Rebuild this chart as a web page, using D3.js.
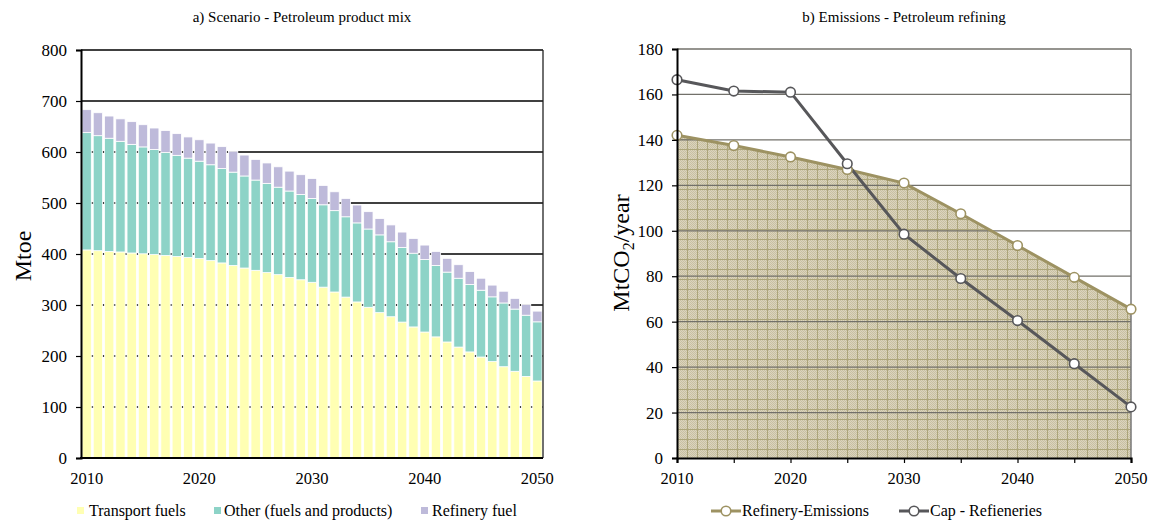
<!DOCTYPE html>
<html>
<head>
<meta charset="utf-8">
<script src="https://cdn.jsdelivr.net/npm/d3@7"></script>
<style>
  html, body { margin: 0; padding: 0; background: #fff; }
  svg, svg text { font-family: "Liberation Serif", "Times New Roman", serif; }
  svg { display: block; }
</style>
</head>
<body>
<svg id="chart" width="1165" height="522"></svg>
<script>
// ---------- Panel a) product mix (Mtoe), one value per year 2010-2050 ----------
const years = d3.range(2010, 2051);
const transportFuels = [408, 406.5, 405, 404, 402, 400.5, 399, 397, 395, 393,
  391, 387, 382.5, 377.5, 372.5, 368, 363.5, 359.5, 354, 349.5,
  344.5, 335, 325.5, 315.5, 306, 295.5, 285, 277, 266.5, 257,
  247, 237.5, 227.5, 217.5, 208, 198, 189, 179, 170, 160, 151];
const otherProducts = [230, 225.5, 222, 217, 213, 209.5, 206, 202, 198.5, 195,
  191, 188, 185, 183, 180.5, 177, 175, 171.5, 169.5, 167,
  164.5, 161.5, 159.5, 157.5, 155, 153.5, 152.5, 147, 146.5, 144.5,
  142, 140, 137, 135, 132, 131, 127, 125, 122, 120, 116];
const refineryFuel = [45, 45, 43.5, 44, 44.5, 43.5, 42, 43, 42.5, 41.5,
  42, 42.5, 43, 41, 41, 40.5, 40, 40, 39, 39,
  39, 38, 37, 36, 35, 34, 32, 33, 30, 29,
  28.5, 27.5, 27, 26.5, 25.5, 23.5, 23, 23, 21, 21, 21];
const mixSeries = ["Transport fuels", "Other (fuels and products)", "Refinery fuel"];
const mixColors = ["#ffffb3", "#8dd3c7", "#bebada"];
const mixTicks = [0, 100, 200, 300, 400, 500, 600, 700, 800];
const mixYearLabels = [2010, 2020, 2030, 2040, 2050];

// ---------- Panel b) refining emissions (MtCO2/year) ----------
const emisYears = [2010, 2015, 2020, 2025, 2030, 2035, 2040, 2045, 2050];
const refineryEmissions = [142, 137.5, 132.5, 127, 121, 107.5, 93.5, 79.5, 65.5];
const capRefineries = [166.5, 161.5, 161, 129.5, 98.5, 79, 60.5, 41.5, 22.5];
const emisTicks = [0, 20, 40, 60, 80, 100, 120, 140, 160, 180];
const emisYearLabels = [2010, 2020, 2030, 2040, 2050];

const FONT = "Liberation Serif, Times New Roman, serif";
const svg = d3.select("#chart");

// Patterns for the shaded emissions area
const defs = svg.append("defs");
const dith = defs.append("pattern").attr("id", "dith")
  .attr("width", 2).attr("height", 2).attr("patternUnits", "userSpaceOnUse");
dith.append("rect").attr("width", 2).attr("height", 2).attr("fill", "#dbd4bd");
dith.append("rect").attr("x", 0).attr("y", 0).attr("width", 1).attr("height", 1).attr("fill", "#c8c0a3");
dith.append("rect").attr("x", 1).attr("y", 1).attr("width", 1).attr("height", 1).attr("fill", "#c8c0a3");
const hatch = defs.append("pattern").attr("id", "hatch")
  .attr("width", 10).attr("height", 10).attr("patternUnits", "userSpaceOnUse")
  .attr("x", 677).attr("y", 49);
hatch.append("rect").attr("width", 10).attr("height", 10).attr("fill", "url(#dith)");
hatch.append("line").attr("x1", 0.5).attr("x2", 0.5).attr("y1", 0).attr("y2", 10)
  .attr("stroke", "#aca57a").attr("stroke-width", 1);
hatch.append("line").attr("x1", 0).attr("x2", 10).attr("y1", 0.5).attr("y2", 0.5)
  .attr("stroke", "#aca57a").attr("stroke-width", 1);

// ================= Panel a =================
const aL = 81, aR = 543, aT = 50, aB = 458;
const xA = d3.scaleBand().domain(years).range([aL, aR]).paddingInner(0.17).paddingOuter(0.085);
const yA = d3.scaleLinear().domain([0, 800]).range([aB, aT]);

const gA = svg.append("g");
gA.append("text").attr("x", 302).attr("y", 22).attr("text-anchor", "middle")
  .attr("font-size", 15).text("a) Scenario - Petroleum product mix");

// horizontal grid
gA.append("g").selectAll("line").data(mixTicks.filter(d => d > 0)).join("line")
  .attr("x1", aL).attr("x2", aR)
  .attr("y1", d => yA(d)).attr("y2", d => yA(d))
  .attr("stroke", "#000").attr("stroke-width", 1.3);

// stacked bars
const rows = years.map((y, i) => ({
  year: y,
  "Transport fuels": transportFuels[i],
  "Other (fuels and products)": otherProducts[i],
  "Refinery fuel": refineryFuel[i]
}));
const stacked = d3.stack().keys(mixSeries)(rows);
gA.append("g").selectAll("g").data(stacked).join("g")
  .attr("fill", (d, i) => mixColors[i])
  .selectAll("rect").data(d => d).join("rect")
  .attr("x", d => xA(d.data.year))
  .attr("width", xA.bandwidth())
  .attr("y", d => yA(d[1]))
  .attr("height", d => yA(d[0]) - yA(d[1]))
  .attr("stroke", "#fff").attr("stroke-width", 0.8);

// right border
gA.append("line").attr("x1", aR).attr("x2", aR).attr("y1", aT).attr("y2", aB)
  .attr("stroke", "#222").attr("stroke-width", 1.3);

// y axis
const yAxisA = d3.axisLeft(yA).tickValues(mixTicks).tickSize(5).tickPadding(9);
const gyA = gA.append("g").attr("transform", `translate(${aL},0)`).call(yAxisA)
  .attr("font-family", FONT);
gyA.select(".domain").attr("stroke", "#000").attr("stroke-width", 2);
gyA.selectAll(".tick line").attr("stroke", "#000").attr("stroke-width", 1.2);
gyA.selectAll(".tick text").attr("font-size", 17).attr("fill", "#000");

// x axis
gA.append("line").attr("x1", aL - 1).attr("x2", aR).attr("y1", aB).attr("y2", aB)
  .attr("stroke", "#000").attr("stroke-width", 2.2);
gA.append("g").selectAll("text").data(mixYearLabels).join("text")
  .attr("x", d => xA(d) + xA.bandwidth() / 2).attr("y", 484)
  .attr("text-anchor", "middle").attr("font-size", 16.5).text(d => d);

gA.append("text").attr("transform", "translate(31,256) rotate(-90)")
  .attr("text-anchor", "middle").attr("font-size", 24).text("Mtoe");

// legend a
const legA = [{x: 77, tx: 89}, {x: 214, tx: 224}, {x: 421, tx: 432}];
legA.forEach((p, i) => {
  gA.append("rect").attr("x", p.x).attr("y", 507).attr("width", 7).attr("height", 7)
    .attr("fill", mixColors[i]);
  gA.append("text").attr("x", p.tx).attr("y", 516).attr("font-size", 16).text(mixSeries[i]);
});

// ================= Panel b =================
const bL = 677, bR = 1131, bT = 49, bB = 458;
const xB = d3.scaleLinear().domain([2010, 2050]).range([bL, bR]);
const yB = d3.scaleLinear().domain([0, 180]).range([bB, bT]);
const gB = svg.append("g");

gB.append("text").attr("x", 904).attr("y", 22).attr("text-anchor", "middle")
  .attr("font-size", 15).text("b) Emissions - Petroleum refining");

const emisRows = emisYears.map((y, i) => ({year: y, ref: refineryEmissions[i], cap: capRefineries[i]}));

// shaded area under refinery emissions
gB.append("path").datum(emisRows)
  .attr("d", d3.area().x(d => xB(d.year)).y0(yB(0)).y1(d => yB(d.ref)))
  .attr("fill", "url(#hatch)");

// grid lines on top of the area
gB.append("g").selectAll("line").data(emisTicks.filter(d => d > 0)).join("line")
  .attr("x1", bL).attr("x2", bR)
  .attr("y1", d => yB(d)).attr("y2", d => yB(d))
  .attr("stroke", "#72706a").attr("stroke-width", 1.3);
gB.append("line").attr("x1", bR).attr("x2", bR).attr("y1", bT).attr("y2", bB)
  .attr("stroke", "#777").attr("stroke-width", 1.5);

// lines
const lineRef = d3.line().x(d => xB(d.year)).y(d => yB(d.ref));
const lineCap = d3.line().x(d => xB(d.year)).y(d => yB(d.cap));
gB.append("path").datum(emisRows).attr("d", lineRef)
  .attr("fill", "none").attr("stroke", "#9d9262").attr("stroke-width", 3);
gB.append("path").datum(emisRows).attr("d", lineCap)
  .attr("fill", "none").attr("stroke", "#57575a").attr("stroke-width", 3);
gB.append("g").selectAll("circle").data(emisRows).join("circle")
  .attr("cx", d => xB(d.year)).attr("cy", d => yB(d.ref)).attr("r", 4.8)
  .attr("fill", "#fff").attr("stroke", "#9d9262").attr("stroke-width", 1.6);
gB.append("g").selectAll("circle").data(emisRows).join("circle")
  .attr("cx", d => xB(d.year)).attr("cy", d => yB(d.cap)).attr("r", 4.8)
  .attr("fill", "#fff").attr("stroke", "#57575a").attr("stroke-width", 1.6);

// axes
const yAxisB = d3.axisLeft(yB).tickValues(emisTicks).tickSize(5).tickPadding(9);
const gyB = gB.append("g").attr("transform", `translate(${bL},0)`).call(yAxisB)
  .attr("font-family", FONT);
gyB.select(".domain").attr("stroke", "#000").attr("stroke-width", 2);
gyB.selectAll(".tick line").attr("stroke", "#000").attr("stroke-width", 1.2);
gyB.selectAll(".tick text").attr("font-size", 17).attr("fill", "#000");

const xAxisB = d3.axisBottom(xB).tickValues(d3.range(2010, 2051, 5)).tickSize(5).tickFormat(() => "");
const gxB = gB.append("g").attr("transform", `translate(0,${bB})`).call(xAxisB);
gxB.select(".domain").attr("stroke", "#000").attr("stroke-width", 2.2);
gxB.selectAll(".tick line").attr("stroke", "#000").attr("stroke-width", 1.2);
gB.append("g").selectAll("text").data(emisYearLabels).join("text")
  .attr("x", d => xB(d)).attr("y", 484)
  .attr("text-anchor", "middle").attr("font-size", 16.5).text(d => d);

const yt = gB.append("text").attr("transform", "translate(629,253) rotate(-90)")
  .attr("text-anchor", "middle").attr("font-size", 24);
yt.append("tspan").text("MtCO");
yt.append("tspan").attr("font-size", 16).attr("dy", 5).text("2");
yt.append("tspan").attr("dy", -5).text("/year");

// legend b
const legB = [
  {x0: 711, label: "Refinery-Emissions", color: "#9d9262"},
  {x0: 899, label: "Cap - Refieneries", color: "#57575a"}
];
legB.forEach(p => {
  gB.append("line").attr("x1", p.x0).attr("x2", p.x0 + 30).attr("y1", 511).attr("y2", 511)
    .attr("stroke", p.color).attr("stroke-width", 3);
  gB.append("circle").attr("cx", p.x0 + 15).attr("cy", 511).attr("r", 4.8)
    .attr("fill", "#fff").attr("stroke", p.color).attr("stroke-width", 1.6);
  gB.append("text").attr("x", p.x0 + 31).attr("y", 516).attr("font-size", 16).text(p.label);
});
</script>
</body>
</html>
